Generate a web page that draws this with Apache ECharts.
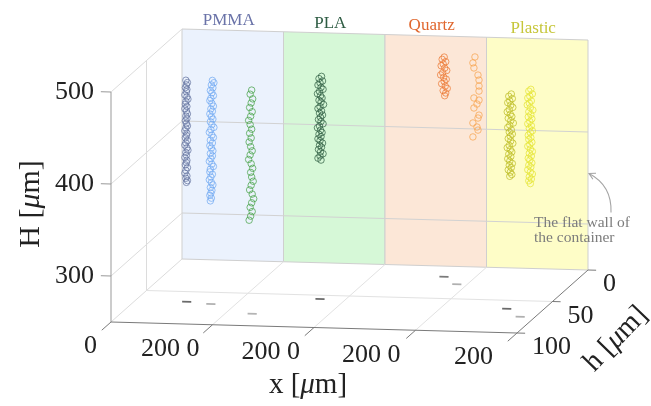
<!DOCTYPE html>
<html><head><meta charset="utf-8">
<script src="https://cdn.jsdelivr.net/npm/echarts@6/dist/echarts.min.js"></script>
<style>html,body{margin:0;padding:0;background:#fff}#c{width:651px;height:406px}</style>
</head><body><div id="c"></div>
<script>
// ---------------- DATA ----------------
const materials = ['PMMA', 'PLA', 'Quartz', 'Plastic'];
const panelWidth = 200;                       // µm per material block
const xTickValues = [0, 200, 400, 600, 800];
const xTickLabels = ['0', '200 0', '200 0', '200 0', '200'];
const HTicks = [300, 400, 500];
const hTicks = [0, 50, 100];
const HRange = [250, 500];
const hRange = [0, 100];

// particle trajectories: x (global µm), depth h (µm), height H (µm)
const pmma1X = [100,103,101,99,102,101,98,102,104,100,99,102,98,101,103,100,102,99,101,103,100,98,102,101,99,103,100,98,102,104,100,101,98,102,101,99,103,100,98,102,100,103,101];
const pmma1H = [491,488.5,486,483,481,478.5,475,473,470.5,468,465,462.5,460,457.5,454.5,452,449.5,447,444,441.5,439,436,433.5,431,428.5,425.5,423,420.5,417.5,415,412.5,409.5,407,404,401.5,399,396,393,390,387,384.5,382,380];
const pmma2X = [155,158,153,156,151,154,157,152,150,154,157,152,155,150,153,156,151,154,158,152,149,154,157,151,155,150,153,156,151,155,152,149,154,157,151,150,155,152,149,153,156,151,154,152,150,153,151];
const pmma2H = [493,490.5,488,485,482,479.5,476.5,473.5,471,468,465,462,459.5,456.5,453.5,451,448,445,442,439.5,436.5,433.5,431,428,425,422,419.5,416.5,413.5,411,408,405,402,399.5,396.5,393.5,391,388,385,382,379.5,376.5,373.5,370.5,368,365,362];
const pmma3X = [252,249,254,251,248,253,250,246,249,252,248,251,247,250,253,249,246,251,254,250,252,255,251,248,253,256,252,249,253,250,247];
const pmma3H = [493.5,489,484,479.5,474.5,470,465,460.5,456,451,446.5,441.5,437,432,427.5,423,418,413.5,408.5,404,399,394.5,390,385,380.5,375.5,371,366,361.5,356.5,352];
const plaX = [353,348,355,350,346,352,356,349,345,351,354,348,352,357,350,346,353,349,355,351,347,352,356,349,345,351,354,348,352,346,350,355,349,353,347,351,356,350,346,352];
const plaH = [492,489.5,487,485,482.5,480,478,475.5,473,471,468.5,466,464,461.5,459,457,454.5,452,450,447.5,445,443,440.5,438,436,433.5,431,429,426.5,424,422,419.5,417,415,412.5,410,408,405.5,403,401];
const quartz1X = [540,536,543,538,534,541,545,537,533,539,544,540,535,542,546,538,543,541];
const quartz1H = [489,486.5,484,481.5,479.5,477,474.5,472,469.5,467,465,462.5,460,457.5,455,452.5,450,447];
const quartz2X = [615,611,613,621,623,623,623,613,623,619,613,623,621,611,619,621,611];
const quartz2H = [497.3,490.8,485.3,477.7,472.3,465.8,460.3,452.7,450.5,446.2,441.8,434.2,431,425.5,421.2,417.9,410.3];
const plastic1X = [737,732,739,734,730,736,740,733,729,735,738,731,736,741,734,730,737,733,739,735,731,736,740,733,729,735,738,732,736,730,734,739,733,737,731,735,738,734];
const plastic1H = [483.5,481,478.5,476,474,471.5,469,466.5,464,461.5,459,457,454.5,452,449.5,447,444.5,442,440,437.5,435,432.5,430,427.5,425,423,420.5,418,415.5,413,410.5,408,406,403.5,401,398.5,396,394];
const plastic2X = [792,788,795,790,786,793,789,785,791,796,788,792,787,794,790,786,793,789,795,791,787,792,788,794,790,786,791,795,789,793,787,790,794,788,792,786,791,795,789,793,788,791];
const plastic2H = [497.5,495.5,492.5,490,488,485,482.5,480.5,477.5,475,473,470,467.5,465.5,462.5,460,458,455,452.5,450.5,447.5,445,443,440,437.5,435.5,432.5,430,428,425,422.5,420.5,417.5,415,413,410,407.5,405.5,402.5,400,398,395];
const trackDepth = [66, 68, 82, 55.8, 16.7, 27, 63, 74.8];
const trackX = [pmma1X, pmma2X, pmma3X, plaX, quartz1X, quartz2X, plastic1X, plastic2X];
const trackH = [pmma1H, pmma2H, pmma3H, plaH, quartz1H, quartz2H, plastic1H, plastic2H];

// floor projections of the trajectories (x, h)
const shadowX = [101, 152, 252, 350, 539, 580, 728, 771];
const shadowDepth = [65.6, 68, 81.3, 55.8, 16.3, 27.5, 63, 74.8];

// ---------------- STYLE ----------------
const FONT = '"Liberation Serif", "DejaVu Serif", serif';
const panelFill = ['#ebf2fd', '#d6f8d7', '#fce7d7', '#fefdc7'];
const titleColor = ['#6a73a8', '#2e5c43', '#e0672e', '#c6c63a'];
const trackColors = ['#61719e', '#6fa8f3', '#43a043', '#2e5e42', '#ec7631', '#f6a24a', '#bcbc22', '#e4e430'];
const shadowColors = ['#6a6a6a', '#b0b0b0', '#b4b4b4', '#6a6a6a', '#7a7a7a', '#b0b0b0', '#6a6a6a', '#b0b0b0'];
const xLabelDx = [-14, -13, -14, -15, -24];

// oblique projection of (x, h, H) onto the back wall plane (h = 0)
const KX = 1.399, KH = 0.6848, TX = 0.01495;
function toWall(X, h, H) { return [X - KX * h, H - KH * h - TX * X]; }

function txt(x, y, str, o) {
  const st = {
    text: str, fill: o.fill || '#222', fontSize: o.size, fontFamily: FONT,
    align: o.align || 'center', textAlign: o.align || 'center',
    verticalAlign: 'middle', textVerticalAlign: 'middle'
  };
  if (o.rich) st.rich = o.rich;
  return { type: 'text', x: x, y: y, rotation: o.rot || 0, style: st };
}
function ln(a, b, stroke, w) {
  return { type: 'line', shape: { x1: a[0], y1: a[1], x2: b[0], y2: b[1] }, style: { stroke: stroke, lineWidth: w || 1 } };
}
const xMax = xTickValues[xTickValues.length - 1];

function backRender(params, api) {
  const P = (X, h, H) => api.coord(toWall(X, h, H));
  const ch = [];
  const g1 = '#dcdcdc', g2 = '#e2e2e2';
  HTicks.concat([HRange[0]]).forEach(H => ch.push(ln(P(0, 0, H), P(0, 100, H), g1)));
  ch.push(ln(P(0, 50, HRange[0]), P(0, 50, HRange[1]), g1));
  ch.push(ln(P(0, 50, HRange[0]), P(xMax, 50, HRange[0]), g2));
  xTickValues.slice(1, -1).forEach(X => ch.push(ln(P(X, 0, HRange[0]), P(X, 100, HRange[0]), g2)));
  return { type: 'group', children: ch };
}
function wallGridRender(params, api) {
  const P = (X, h, H) => api.coord(toWall(X, h, H));
  return { type: 'group', children: [300, 400].map(H => ln(P(0, 0, H), P(xMax, 0, H), '#d2d2d2')) };
}
function frontRender(params, api) {
  const P = (X, h, H) => api.coord(toWall(X, h, H));
  const ch = [];
  const ax = '#7a7a7a';
  const H0 = HRange[0];
  ch.push(ln(P(0, 100, H0), P(0, 100, HRange[1]), '#999'));
  ch.push(ln(P(0, 100, H0), P(xMax, 100, H0), ax));
  ch.push(ln(P(xMax, 0, H0), P(xMax, 100, H0), ax));
  HTicks.forEach(H => {
    const a = P(0, 100, H);
    ch.push(ln(a, P(-20, 100, H), '#999'));
    ch.push(txt(a[0] - 17, a[1], String(H), { size: 26, align: 'right' }));
  });
  xTickValues.forEach((X, i) => {
    const a = P(X, 100, H0);
    ch.push(ln(a, P(X, 113, H0), ax));
    ch.push(txt(a[0] + xLabelDx[i], a[1] + 24.5, xTickLabels[i], { size: 26, align: 'right' }));
  });
  hTicks.forEach(h => {
    const a = P(xMax, h, H0);
    ch.push(ln(a, P(xMax + 16, h, H0), ax));
    ch.push(txt(a[0] + 15, a[1] + 14.5, String(h), { size: 26, align: 'left' }));
  });
  const rich = { i: { fontStyle: 'italic', fontSize: 30, fontFamily: FONT, fill: '#222' } };
  ch.push(txt(31, 204, 'H [{i|μ}m]', { size: 30, rot: Math.PI / 2, rich: rich }));
  ch.push(txt(308, 385, 'x [{i|μ}m]', { size: 29, rich: { i: { fontStyle: 'italic', fontSize: 29, fontFamily: FONT, fill: '#222' } } }));
  ch.push(txt(616, 339, 'h [{i|μ}m]', { size: 29, rot: 46 * Math.PI / 180, rich: { i: { fontStyle: 'italic', fontSize: 29, fontFamily: FONT, fill: '#222' } } }));
  // annotation
  const tip = P(xMax + 2, 0, 355);
  const e = [tip[0] + 22, tip[1] + 39];
  const c = [tip[0] + 23, tip[1] + 12];
  ch.push({ type: 'bezierCurve', shape: { x1: e[0], y1: e[1], x2: tip[0], y2: tip[1], cpx1: c[0], cpy1: c[1] }, style: { stroke: '#a5a5a5', lineWidth: 1.1, fill: null } });
  let dx = c[0] - tip[0], dy = c[1] - tip[1]; const L = Math.hypot(dx, dy); dx /= L; dy /= L;
  const wing = (ang) => [tip[0] + 7 * (dx * Math.cos(ang) - dy * Math.sin(ang)), tip[1] + 7 * (dx * Math.sin(ang) + dy * Math.cos(ang))];
  ch.push({ type: 'polyline', shape: { points: [wing(0.5), tip, wing(-0.5)] }, style: { stroke: '#a5a5a5', lineWidth: 1.1, fill: null } });
  ch.push(txt(tip[0] - 55, tip[1] + 49, 'The flat wall of', { size: 15.5, align: 'left', fill: '#7c7c7c' }));
  ch.push(txt(tip[0] - 55, tip[1] + 64.5, 'the container', { size: 15.5, align: 'left', fill: '#7c7c7c' }));
  return { type: 'group', children: ch };
}
function panelRender(params, api) {
  const i = api.value(0);
  const P = (X, h, H) => api.coord(toWall(X, h, H));
  const x0 = i * panelWidth, x1 = x0 + panelWidth;
  const pts = [P(x0, 0, HRange[0]), P(x1, 0, HRange[0]), P(x1, 0, HRange[1]), P(x0, 0, HRange[1])];
  const t = P((x0 + x1) / 2, 0, HRange[1]);
  return { type: 'group', children: [
    { type: 'polygon', shape: { points: pts }, style: { fill: panelFill[i], stroke: '#cfcfcf', lineWidth: 1 } },
    txt(t[0] - 4, t[1] - 10, materials[i], { size: 17, fill: titleColor[i] })
  ] };
}
function shadowRender(params, api) {
  const k = params.dataIndex;
  const X = api.value(0), h = api.value(1);
  const a = api.coord(toWall(X - 9, h, HRange[0])), b = api.coord(toWall(X + 9, h, HRange[0]));
  return ln(a, b, shadowColors[k], 1.8);
}

const series = [
  { type: 'custom', coordinateSystem: 'cartesian2d', z: 1, silent: true, data: materials.map((m, i) => [i, 0]), renderItem: panelRender },
  { type: 'custom', coordinateSystem: 'cartesian2d', z: 2, silent: true, data: [[0, 0]], renderItem: backRender },
  { type: 'custom', coordinateSystem: 'cartesian2d', z: 2, silent: true, data: [[0, 0]], renderItem: wallGridRender },
  { type: 'custom', coordinateSystem: 'cartesian2d', z: 3, silent: true, data: shadowX.map((x, i) => [x, shadowDepth[i]]), renderItem: shadowRender },
];
trackX.forEach((xs, k) => {
  series.push({
    type: 'scatter', z: 4, silent: true, clip: false,
    symbol: 'circle', symbolSize: 6.5,
    itemStyle: { color: 'rgba(0,0,0,0)', borderColor: trackColors[k], borderWidth: 0.9 },
    data: xs.map((x, j) => toWall(x, trackDepth[k], trackH[k][j]))
  });
});
series.push({ type: 'custom', coordinateSystem: 'cartesian2d', z: 5, silent: true, data: [[0, 0]], renderItem: frontRender });

const chart = echarts.init(document.getElementById('c'));
chart.setOption({
  animation: false,
  backgroundColor: '#ffffff',
  grid: { left: 182, top: 29, width: 406, height: 230, outerBoundsMode: 'none' },
  xAxis: { type: 'value', min: 0, max: xMax, show: false },
  yAxis: { type: 'value', min: HRange[0], max: HRange[1], show: false },
  series: series
});
</script>
</body></html>
